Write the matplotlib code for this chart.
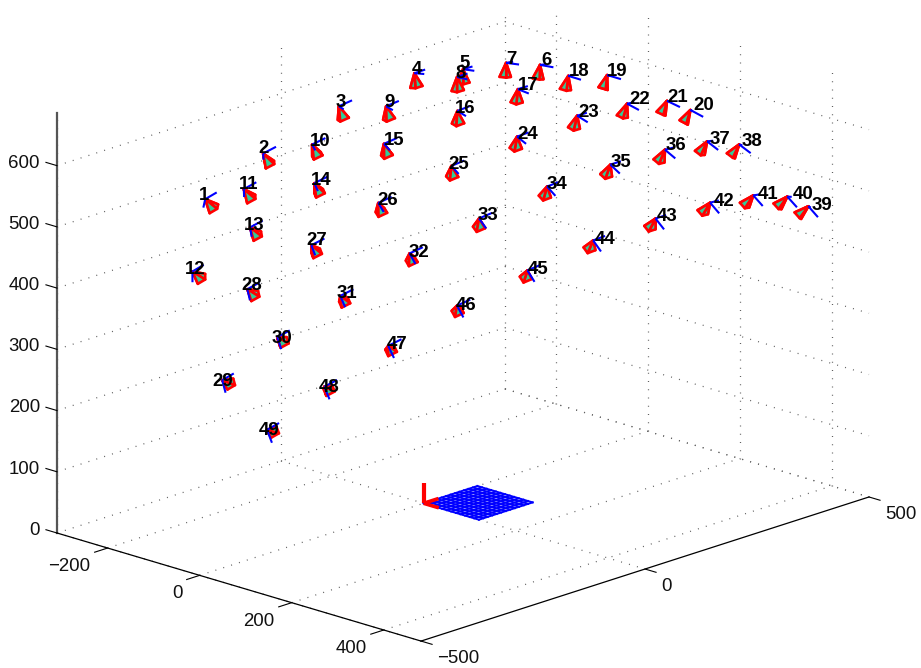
import numpy as np
import matplotlib
matplotlib.use("Agg")
import matplotlib.pyplot as plt
from matplotlib.patches import Rectangle
from mpl_toolkits.mplot3d import proj3d
from mpl_toolkits.mplot3d.art3d import Poly3DCollection, Line3DCollection

# camera centres, world coordinates
cam_x = [-314,-231,-105,42,93,231,182,52,-90,-210,-307,-432,-370,-283,-177,-48,80,215,348,426,383,224,94,-35,-158,
         -275,-371,-448,-536,-481,-408,-311,-203,-79,48,178,304,429,490,405,289,170,41,-85,-204,-316,-413,-490,-550]
cam_y = [-169,-124,-82,-61,-5,28,2,22,6,-38,-92,-82,-17,38,86,120,127,105,60,165,156,224,242,237,214,
         169,117,53,84,150,216,272,318,345,359,351,320,268,359,396,435,457,464,451,424,380,325,261,195]
cam_z = [533,598,655,679,686,668,677,689,671,627,565,462,534,598,648,679,686,671,631,579,602,650,665,660,636,
         593,535,467,346,418,483,542,584,613,622,614,591,545,450,494,532,553,559,550,523,482,427,364,293]

# tick values
x_ticks = [-500, 0, 500]
y_ticks = [-200, 0, 200, 400]
z_ticks = [0, 100, 200, 300, 400, 500, 600]

# calibration pattern
pattern = [0, 10, 20, 30, 40, 50, 60, 70, 80, 90, 100, 110, 120]

xlim = (-500, 500)
ylim = (-310, 481)
zlim = (0, 686)

# label shift from the camera centre, in pixels (right, down)
nudge = [(-1,-6),(0,-7),(2,-6),(3,-6),(2,-8),(6,-6),(5,-5),(3,-5),(3,-6),(8,-5),(5,-7),(3,-4),(4,-4),(7,-5),
         (10,-5),(8,-4),(10,-6),(11,-6),(10,-6),(13,-6),(11,-5),(13,-6),(12,-5),(11,-4),(7,-3),(9,-4),(5,-7),
         (4,-6),(1,-1),(5,-1),(7,-4),(9,-3),(9,-5),(10,-4),(11,-4),(11,-6),(13,-4),(13,-5),(14,-3),(16,-4),
         (15,-3),(14,-3),(12,-4),(12,-3),(11,-3),(9,-2),(9,-3),(5,-1),(2,-1)]

plt.rcParams['font.family'] = ['Liberation Sans', 'DejaVu Sans']
fig = plt.figure(figsize=(9.21, 6.68), dpi=100)
ax = fig.add_axes([0, 0, 668/921, 1], projection='3d')
ax.computed_zorder = False
ax.set_proj_type('ortho')
ax.view_init(elev=18, azim=-136.15)
ax.set_box_aspect((646.6, 504.8, 441.6))
ax.set_axis_off()

# dotted grid on floor and the two back walls
dots = dict(color='#606060', lw=0.9, ls=(0, (0.8, 5.8)), zorder=1)
for xt in x_ticks:
    ax.plot([xt, xt], ylim, [0, 0], **dots)
    ax.plot([xt, xt], [ylim[0], ylim[0]], zlim, **dots)
for yt in y_ticks:
    ax.plot(xlim, [yt, yt], [0, 0], **dots)
    ax.plot([xlim[1], xlim[1]], [yt, yt], zlim, **dots)
for zt in z_ticks:
    ax.plot(xlim, [ylim[0], ylim[0]], [zt, zt], **dots)
    ax.plot([xlim[1], xlim[1]], ylim, [zt, zt], **dots)

# axis lines and ticks
ax.plot([xlim[0], xlim[0]], [ylim[0], ylim[0]], zlim, color='#555555', lw=1.6, zorder=2)
ax.plot([xlim[0], xlim[0]], ylim, [0, 0], color='k', lw=0.9, zorder=2)
ax.plot(xlim, [ylim[1], ylim[1]], [0, 0], color='k', lw=0.9, zorder=2)
for zt in z_ticks:
    ax.plot([xlim[0], xlim[0]], [ylim[0], ylim[0]-24], [zt, zt], color='k', lw=0.8, zorder=2)
for yt in y_ticks:
    ax.plot([xlim[0], xlim[0]-29], [yt, yt], [0, 0], color='k', lw=0.8, zorder=2)
for xt in x_ticks:
    ax.plot([xt, xt], [ylim[1], ylim[1]+24], [0, 0], color='k', lw=0.8, zorder=2)

# calibration pattern with its red frame
for p in pattern:
    ax.plot([p, p], [pattern[0], pattern[-1]], [0, 0], color='b', lw=1.4, zorder=3)
    ax.plot([pattern[0], pattern[-1]], [p, p], [0, 0], color='b', lw=1.4, zorder=3)
ax.plot([0, 33], [0, 0], [0, 0], color='r', lw=2.6, zorder=4, solid_capstyle='butt')
ax.plot([0, 0], [0, 33], [0, 0], color='r', lw=2.6, zorder=4, solid_capstyle='butt')
ax.plot([0, 0], [0, 0], [0, 33], color='r', lw=3.0, zorder=4, solid_capstyle='butt')

# cameras: pyramid looking at the pattern centre, plus two blue axes
target = np.array([60.0, 60.0, 0.0])
up = np.array([0.0, 0.6, -0.8])
faces = []
segs = []
for cx, cy, cz in zip(cam_x, cam_y, cam_z):
    c = np.array([cx, cy, cz], float)
    d = target - c
    d = d / np.linalg.norm(d)
    b = up - (up @ d)*d
    b = b / np.linalg.norm(b)
    a = np.cross(d, b)
    m = c + 22*d
    k = [m+7.5*a+6*b, m-7.5*a+6*b, m-7.5*a-6*b, m+7.5*a-6*b]
    for i in range(4):
        faces.append([c, k[i], k[(i+1) % 4]])
    segs.append([c, c+23*a])
    segs.append([c, c+23*b])
ax.add_collection3d(Poly3DCollection(faces, facecolors=(0.2, 0.8, 0.6), edgecolors='r', linewidths=1.9, zorder=5))
ax.add_collection3d(Line3DCollection(segs, colors='b', linewidths=1.5, zorder=6))

ax.set_xlim(xlim)
ax.set_ylim(ylim[1], ylim[0])
ax.set_zlim(zlim)

M = ax.get_proj()

# texts go in as plain 2D text at the projected point
def put_text(x, y, z, s, **kw):
    u, v, _ = proj3d.proj_transform(x, y, z, M)
    ax.text2D(u, v, s, transform=ax.transData, va='center', **kw)

tick_font = dict(fontsize=13.4, color='#111111', zorder=8)
for zt in z_ticks:
    put_text(xlim[0], ylim[0]-37, zt-4, str(zt), ha='right', **tick_font)
for yt in y_ticks:
    put_text(xlim[0]-38, yt, -21, str(yt).replace('-', '\u2212'), ha='right', **tick_font)
for xt in x_ticks:
    put_text(xt, ylim[1]+35, -21, str(xt).replace('-', '\u2212'), ha='left', **tick_font)

for i, (cx, cy, cz) in enumerate(zip(cam_x, cam_y, cam_z)):
    dx, dy = nudge[i]
    put_text(cx+1.101*dx, cy+1.101*dx, cz-0.0103*dx-1.634*(dy+2), str(i+1), fontsize=13.4, fontweight='bold',
             ha='center', color='k', zorder=7)

# fit the box onto the picture: left corner and right corner of the floor
def to_px(x, y, z):
    u, v, _ = proj3d.proj_transform(x, y, z, M)
    return ax.transData.transform((u, v))
p1 = to_px(xlim[0], ylim[0], 0)
p2 = to_px(xlim[1], ylim[1], 0)
s = (869-57)/(p2[0]-p1[0])
l = 57 - p1[0]*s
b = (668-533) - p1[1]*s
ax.set_position([l/921, b/668, 668*s/921, 668*s/668])

# the reference stops drawing just under the top edge
fig.add_artist(Rectangle((0, 1-10/668), 1, 10/668, transform=fig.transFigure, color='w', zorder=10))
fig.savefig("out.png", dpi=100)
